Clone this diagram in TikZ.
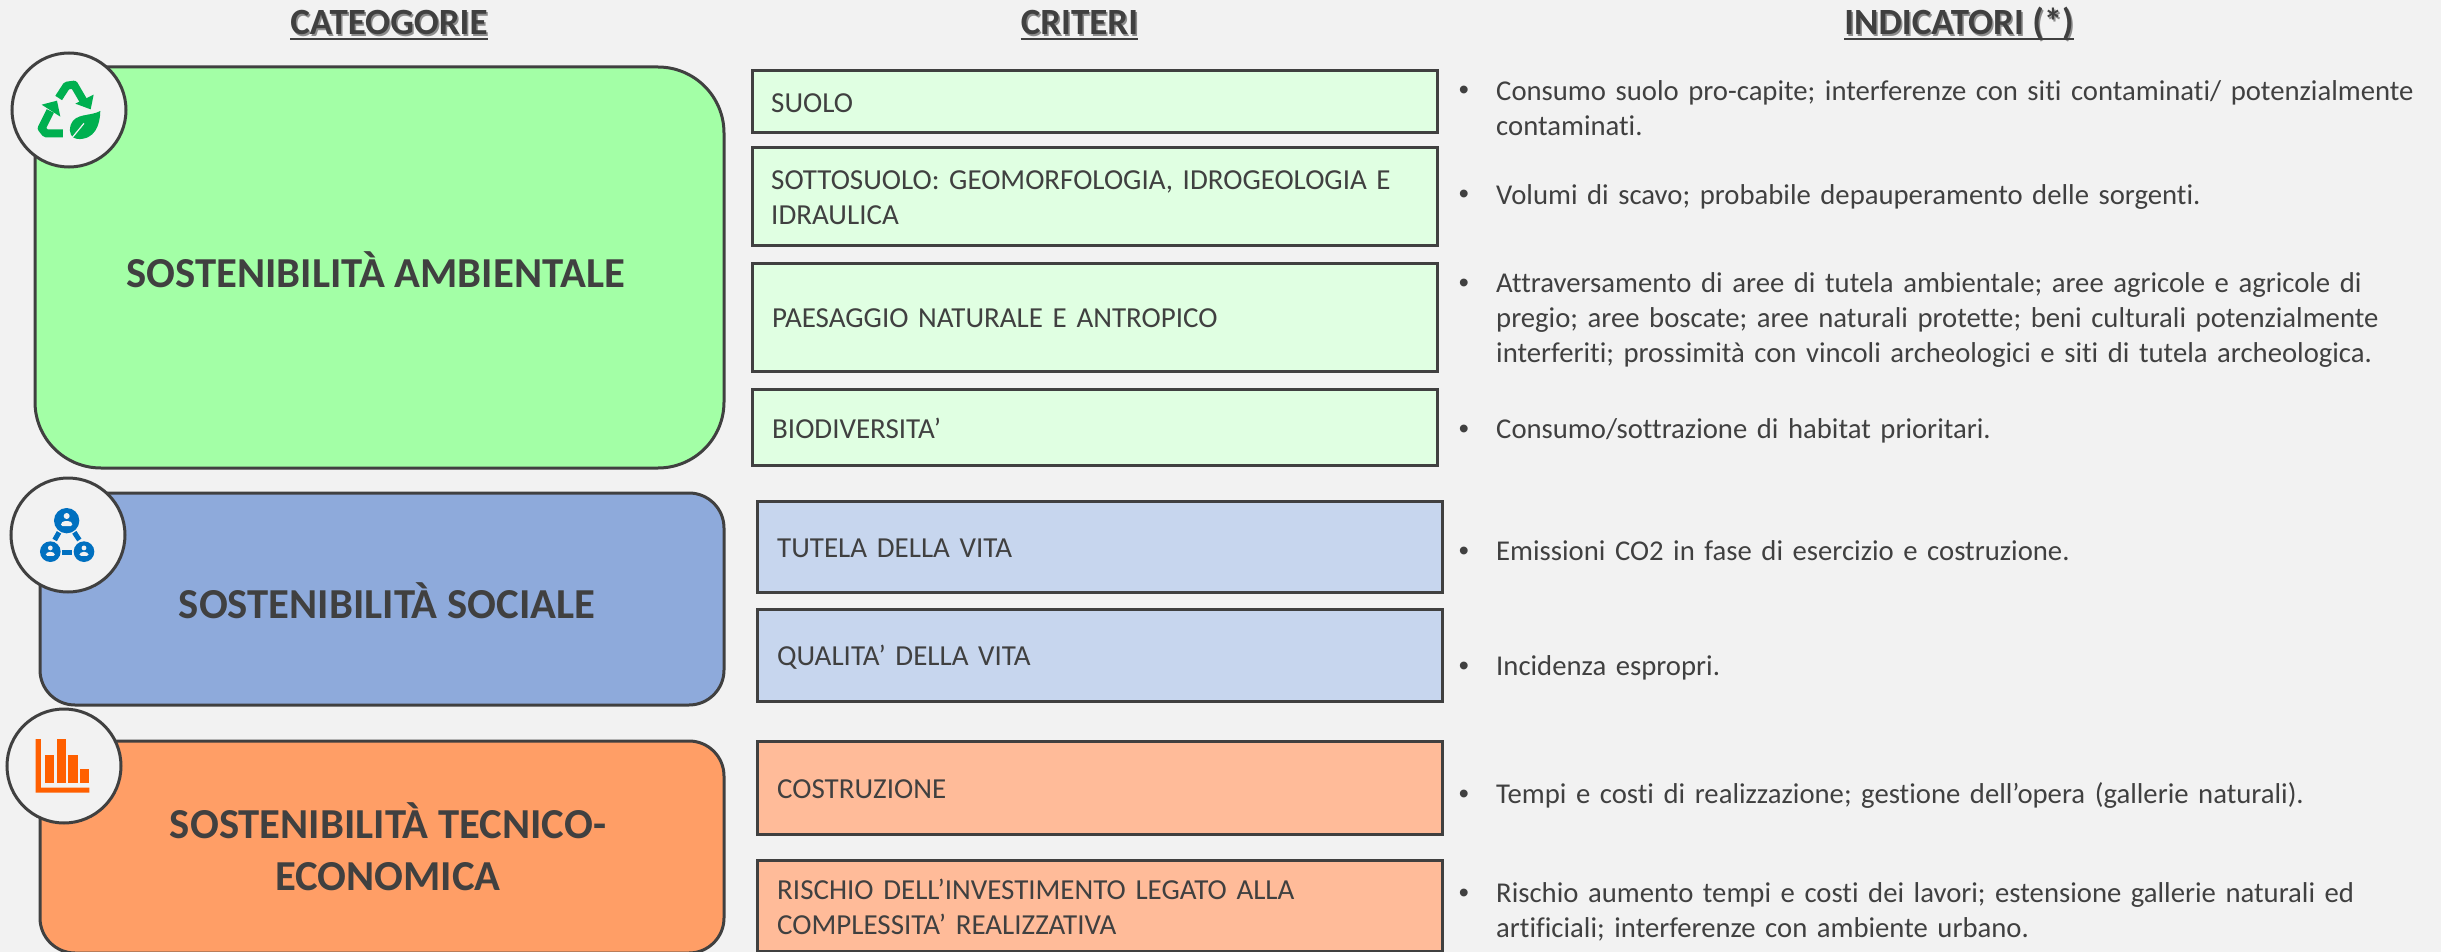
\documentclass[tikz,border=0pt]{standalone}
\usepackage{fontspec}
\setmainfont[Ligatures=NoCommon]{Carlito}
\newfontfamily\bulfont{Liberation Sans}
\definecolor{bgc}{HTML}{F2F2F2}
\definecolor{ink}{HTML}{404040}
\definecolor{greenA}{HTML}{A3FFA6}
\definecolor{greenB}{HTML}{E0FFE2}
\definecolor{blueA}{HTML}{8EAADB}
\definecolor{blueB}{HTML}{C7D6EE}
\definecolor{orangeA}{HTML}{FF9E66}
\definecolor{orangeB}{HTML}{FFBB99}
\definecolor{recy}{HTML}{00B050}
\definecolor{netw}{HTML}{0070C0}
\definecolor{chrt}{HTML}{FF5F00}
\newcommand{\fsz}[2]{\fontsize{#1}{#2}\selectfont}
\tikzset{
  x=1pt,y=-1pt,
  catbox/.style={draw=ink,line width=3pt,rounded corners=#1},
  critbox/.style={draw=ink,line width=3pt},
  icon/.style={circle,draw=ink,line width=3pt,fill=bgc,minimum size=114pt,inner sep=0pt},
  head/.style={font=\bfseries\fsz{37}{42},text=ink,inner sep=0pt,text height=26pt,text depth=4pt,anchor=base},
  headshadow/.style={font=\bfseries\fsz{37}{42},text=black!45,inner sep=0pt,anchor=base},
  cat/.style={font=\bfseries\fsz{42.7}{52},text=ink,align=center,inner sep=0pt,anchor=north,execute at begin node=\strut},
  crit/.style={font=\fsz{29}{35},text=ink,align=left,anchor=north west,inner sep=0pt,text width=670pt,execute at begin node=\strut},
  ind/.style={font=\fsz{28.7}{35},text=ink,align=left,anchor=north west,inner sep=0pt,text width=940pt,execute at begin node=\strut},
  bul/.style={font=\bulfont\fsz{28.7}{35},text=ink,anchor=base,inner sep=0pt},
}
\begin{document}
\begin{tikzpicture}
\useasboundingbox (0,0) rectangle (2441,952);
\fill[bgc] (0,0) rectangle (2441,952);
\begin{scope}
\clip (0,0) rectangle (2441,952);
% headings
\foreach \n/\x/\t in {a/389/CATEOGORIE,b/1079.5/CRITERI,c/1959/INDICATORI (*)}{
  \node[headshadow] at (\x+1.5,36.5) {\t};
  \node[head] (h\n) at (\x,35) {\t};
  \draw[ink,line width=2.4pt] (h\n.south west) -- (h\n.south east);
}
% category boxes
\draw[catbox=66pt,fill=greenA] (35,67) rectangle (724,468);
\draw[catbox=35pt,fill=blueA] (40,493) rectangle (724,705);
\draw[catbox=35pt,fill=orangeA] (40,741) rectangle (724,953);
\node[cat] (c1) at (375.5,250.6) {SOSTENIBILITÀ AMBIENTALE};
\node[cat] (c2) at (387,581.6) {SOSTENIBILITÀ SOCIALE};
\node[cat] (c3) at (388,802.6) {SOSTENIBILITÀ TECNICO-\\ECONOMICA};
% icon circles
\node[icon] (i1) at (69,110) {};
\node[icon] (i2) at (68,535) {};
\node[icon] (i3) at (64,766) {};
% recycle icon
\begin{scope}[shift={(0,60)},x=1pt/3,y=-1pt/3]
  \draw[recy,line width=8pt,line join=round] (176,114) -- (200,77) -- (222,74) -- (250,122);
  \fill[recy] (281,104) -- (272,148) -- (226,131) -- cycle;
  \draw[recy,line width=8pt,line join=round] (151,153) -- (125,205) -- (137,220) -- (189,220);
  \fill[recy] (125,134) -- (171,122) -- (181,170) -- cycle;
  \fill[recy] (301,153) .. controls (270,170) and (225,158) .. (212,195) .. controls (205,220) and (215,235) .. (232,237) .. controls (285,240) and (300,195) .. (301,153) -- cycle;
  \draw[bgc,line width=1.2pt] (205,247) -- (252,190);
\end{scope}
% network icon
\begin{scope}[shift={(0,470)},x=1pt/3,y=-1pt/3]
  \fill[netw] (200,152) circle[radius=38pt/3*1];
  \fill[netw] (151,245) circle[radius=31pt/3*1];
  \fill[netw] (252,245) circle[radius=31pt/3*1];
  \draw[netw,line width=5pt] (177,187) -- (164,210);
  \draw[netw,line width=5pt] (223,187) -- (238,210);
  \draw[netw,line width=5pt] (187,246) -- (216,246);
  \foreach \cx/\cy/\k in {200/152/1,151/245/0.8,252/245/0.8}{
    \fill[bgc] (\cx,\cy-14*\k) circle[radius=\k*9pt/3];
    \fill[bgc,rounded corners=1.5pt] (\cx-17*\k,\cy+16*\k) -- (\cx-17*\k,\cy+7*\k) -- (\cx-8*\k,\cy+1*\k) -- (\cx+8*\k,\cy+1*\k) -- (\cx+17*\k,\cy+7*\k) -- (\cx+17*\k,\cy+16*\k) -- cycle;
  }
\end{scope}
% chart icon
\begin{scope}[shift={(0,710)},x=1pt/3,y=-1pt/3]
  \fill[chrt] (107,87) -- (123,87) -- (123,233) -- (268,233) -- (268,248) -- (107,248) -- cycle;
  \fill[chrt] (135,136) rectangle (163,220);
  \fill[chrt] (170,87) rectangle (198,220);
  \fill[chrt] (205,136) rectangle (233,220);
  \fill[chrt] (240,176) rectangle (268,220);
\end{scope}
% criteria boxes
\draw[critbox,fill=greenB] (752,71) rectangle (1437,133);
\draw[critbox,fill=greenB] (752,148) rectangle (1437,245);
\draw[critbox,fill=greenB] (752,263) rectangle (1437,371);
\draw[critbox,fill=greenB] (752,389) rectangle (1437,465);
\draw[critbox,fill=blueB] (757.5,501) rectangle (1442.5,592);
\draw[critbox,fill=blueB] (757.5,609) rectangle (1442.5,701);
\draw[critbox,fill=orangeB] (757.5,741) rectangle (1442.5,834);
\draw[critbox,fill=orangeB] (757.5,860) rectangle (1442.5,951);
\node[crit] (k1) at (771,87.5) {SUOLO};
\node[crit] (k2) at (771,164.5) {SOTTOSUOLO: GEOMORFOLOGIA, IDROGEOLOGIA E\\IDRAULICA};
\node[crit] (k3) at (772,302.5) {PAESAGGIO NATURALE E ANTROPICO};
\node[crit] (k4) at (772,413.5) {BIODIVERSITA’};
\node[crit] (k5) at (777,532.5) {TUTELA DELLA VITA};
\node[crit] (k6) at (777,640.5) {QUALITA’ DELLA VITA};
\node[crit] (k7) at (777,773.5) {COSTRUZIONE};
\node[crit] (k8) at (777,874.5) {RISCHIO DELL’INVESTIMENTO LEGATO ALLA\\COMPLESSITA’ REALIZZATIVA};
% indicators
\foreach \n/\y/\t in {
  1/100/{Consumo suolo pro-capite; interferenze con siti contaminati/ potenzialmente\\contaminati.},
  2/204/{Volumi di scavo; probabile depauperamento delle sorgenti.},
  3/292/{Attraversamento di aree di tutela ambientale; aree agricole e agricole di\\pregio; aree boscate; aree naturali protette; beni culturali potenzialmente\\interferiti; prossimità con vincoli archeologici e siti di tutela archeologica.},
  4/438/{Consumo/sottrazione di habitat prioritari.},
  5/560/{Emissioni CO2 in fase di esercizio e costruzione.},
  6/675/{Incidenza espropri.},
  7/803/{Tempi e costi di realizzazione; gestione dell’opera (gallerie naturali).},
  8/902/{Rischio aumento tempi e costi dei lavori; estensione gallerie naturali ed\\artificiali; interferenze con ambiente urbano.}}{
  \node[bul] (b\n) at (1464,\y) {•};
  \node[ind] (t\n) at (1496,\y-24.5) {\t};
}
\end{scope}
\end{tikzpicture}
\end{document}
